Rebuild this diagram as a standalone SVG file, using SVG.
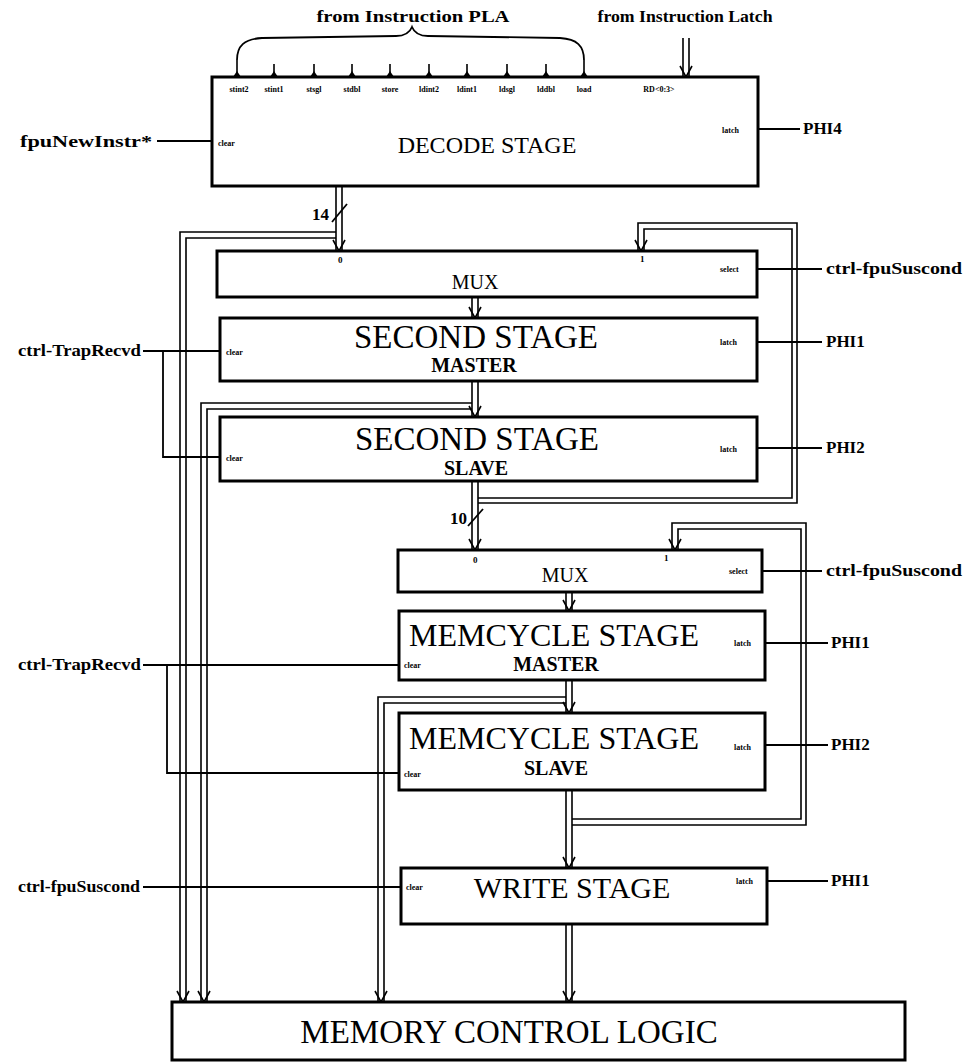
<svg xmlns="http://www.w3.org/2000/svg" xmlns:xlink="http://www.w3.org/1999/xlink" width="967" height="1064" viewBox="0 0 967 1064">
<style>
.box{fill:#fff;stroke:#000;stroke-width:3}
.w{fill:none;stroke:#000;stroke-width:1.6}
.c{fill:none;stroke:#000;stroke-width:1.8}
.t{font-family:"Liberation Serif",serif;fill:#000}
.big{font-size:33px;text-anchor:middle}
.mc{font-size:32px;text-anchor:middle}
.sub{font-size:20px;font-weight:bold;text-anchor:middle}
.lab{font-size:17px;font-weight:bold}
.tiny{font-size:8px;font-weight:bold}
.pin{font-size:9px;font-weight:bold}
</style>
<defs>
<path id="chev" d="M-6,-11 L0,0 L6,-11" fill="none" stroke="#000" stroke-width="1.6"/>
<path id="foot" d="M-4,0 L0,-6 L4,0 Z" fill="#000"/>
</defs>
<rect width="967" height="1064" fill="#fff"/>

<g id="connectors">
<path class="c" d="M237,60 C237,46 244,39 262,38 L396,36 C405,36 410,32 412,27 C414,32 419,36 428,36 L560,38 C577,39 584,46 584,60"/>
<path class="w" d="M237,60V77 M274,64V77 M314,64V77 M352,64V77 M390,64V77 M429,64V77 M467,64V77 M507,64V77 M546,64V77 M584,60V77"/>
<use xlink:href="#foot" x="237" y="77"/><use xlink:href="#foot" x="274" y="77"/><use xlink:href="#foot" x="314" y="77"/><use xlink:href="#foot" x="352" y="77"/><use xlink:href="#foot" x="390" y="77"/><use xlink:href="#foot" x="429" y="77"/><use xlink:href="#foot" x="467" y="77"/><use xlink:href="#foot" x="507" y="77"/><use xlink:href="#foot" x="546" y="77"/><use xlink:href="#foot" x="584" y="77"/>
<path class="w" d="M683,38V77 M689,38V77"/><use xlink:href="#chev" x="686" y="77"/>
<path class="w" d="M336,186V251 M342,186V251"/><use xlink:href="#chev" x="339" y="251"/>
<path class="c" d="M332,222 L347,204"/>
<path class="w" d="M336,232H180V1002 M336,238H186V1002"/><use xlink:href="#chev" x="183" y="1002"/>
<path class="w" d="M472,297V318 M478,297V318"/><use xlink:href="#chev" x="475" y="318"/>
<path class="w" d="M472,381V417 M478,381V417"/><use xlink:href="#chev" x="475" y="417"/>
<path class="w" d="M472,403H201V1002 M472,409H207V1002"/><use xlink:href="#chev" x="204" y="1002"/>
<path class="w" d="M472,481V550 M478,481V550"/><use xlink:href="#chev" x="475" y="550"/>
<path class="c" d="M468,526 L483,509"/>
<path class="w" d="M478,503H797V223H638V251 M478,498H792V229H644V251"/><use xlink:href="#chev" x="641" y="251"/>
<path class="w" d="M566,592V611 M572,592V611"/><use xlink:href="#chev" x="569" y="611"/>
<path class="w" d="M566,680V713 M572,680V713"/><use xlink:href="#chev" x="569" y="713"/>
<path class="w" d="M566,697H378V1002 M566,703H384V1002"/><use xlink:href="#chev" x="381" y="1002"/>
<path class="w" d="M566,790V868 M572,790V868"/><use xlink:href="#chev" x="569" y="868"/>
<path class="w" d="M572,825H806V523H672V550 M572,819H801V529H678V550"/><use xlink:href="#chev" x="675" y="550"/>
<path class="w" d="M566,924V1002 M572,924V1002"/><use xlink:href="#chev" x="569" y="1002"/>
<path class="c" d="M157,141H212 M758,129H800 M757,269H822 M757,342H822 M757,448H822 M143,351H220 M163,351V457H220 M762,571H822 M765,643H828 M765,745H828 M143,665H399 M167,665V773H399 M143,887H401 M767,881H828"/>
</g>

<g id="labels">
<text class="t" x="413" y="22" font-size="17" font-weight="bold" text-anchor="middle" textLength="193" lengthAdjust="spacingAndGlyphs">from Instruction PLA</text>
<text class="t" x="685" y="22" font-size="17" font-weight="bold" text-anchor="middle" textLength="175" lengthAdjust="spacingAndGlyphs">from Instruction Latch</text>
<text class="t lab" x="152" y="147" text-anchor="end" textLength="132" lengthAdjust="spacingAndGlyphs">fpuNewInstr*</text>
<text class="t lab" x="803" y="134">PHI4</text>
<text class="t lab" x="826" y="274" textLength="136" lengthAdjust="spacingAndGlyphs">ctrl-fpuSuscond</text>
<text class="t lab" x="826" y="347">PHI1</text>
<text class="t lab" x="826" y="453">PHI2</text>
<text class="t lab" x="141" y="356" text-anchor="end" textLength="123" lengthAdjust="spacingAndGlyphs">ctrl-TrapRecvd</text>
<text class="t lab" x="826" y="576" textLength="136" lengthAdjust="spacingAndGlyphs">ctrl-fpuSuscond</text>
<text class="t lab" x="831" y="648">PHI1</text>
<text class="t lab" x="831" y="750">PHI2</text>
<text class="t lab" x="141" y="670" text-anchor="end" textLength="123" lengthAdjust="spacingAndGlyphs">ctrl-TrapRecvd</text>
<text class="t lab" x="140" y="892" text-anchor="end" textLength="122" lengthAdjust="spacingAndGlyphs">ctrl-fpuSuscond</text>
<text class="t lab" x="831" y="886">PHI1</text>
<text class="t lab" x="329" y="220" text-anchor="end">14</text>
<text class="t lab" x="467" y="524" text-anchor="end">10</text>
</g>

<g id="decode">
<rect class="box" x="212" y="77" width="546" height="109"/>
<g class="t tiny" text-anchor="middle">
<text x="239" y="92">stint2</text><text x="274" y="92">stint1</text><text x="314" y="92">stsgl</text><text x="352" y="92">stdbl</text><text x="390" y="92">store</text><text x="429" y="92">ldint2</text><text x="467" y="92">ldint1</text><text x="507" y="92">ldsgl</text><text x="546" y="92">lddbl</text><text x="584" y="92">load</text>
<text x="659" y="92">RD&lt;0:3&gt;</text>
</g>
<text class="t tiny" x="218" y="146">clear</text>
<text class="t tiny" x="722" y="133">latch</text>
<text class="t" x="487" y="153" font-size="24" text-anchor="middle">DECODE STAGE</text>
</g>

<g id="mux1">
<rect class="box" x="217" y="251" width="540" height="46"/>
<text class="t pin" x="338" y="263">0</text>
<text class="t pin" x="640" y="262">1</text>
<text class="t tiny" x="720" y="272">select</text>
<text class="t" x="475" y="289" font-size="20" text-anchor="middle">MUX</text>
</g>

<g id="second-master">
<rect class="box" x="220" y="318" width="537" height="63"/>
<text class="t big" x="476" y="348">SECOND STAGE</text>
<text class="t sub" x="474" y="372">MASTER</text>
<text class="t tiny" x="226" y="355">clear</text>
<text class="t tiny" x="720" y="345">latch</text>
</g>

<g id="second-slave">
<rect class="box" x="220" y="417" width="537" height="64"/>
<text class="t big" x="477" y="450">SECOND STAGE</text>
<text class="t sub" x="476" y="475">SLAVE</text>
<text class="t tiny" x="226" y="461">clear</text>
<text class="t tiny" x="720" y="452">latch</text>
</g>

<g id="mux2">
<rect class="box" x="398" y="550" width="364" height="42"/>
<text class="t pin" x="473" y="563">0</text>
<text class="t pin" x="664" y="561">1</text>
<text class="t tiny" x="729" y="574">select</text>
<text class="t" x="565" y="582" font-size="20" text-anchor="middle">MUX</text>
</g>

<g id="memcycle-master">
<rect class="box" x="399" y="611" width="366" height="69"/>
<text class="t mc" x="554" y="646">MEMCYCLE STAGE</text>
<text class="t sub" x="556" y="671">MASTER</text>
<text class="t tiny" x="404" y="668">clear</text>
<text class="t tiny" x="734" y="646">latch</text>
</g>

<g id="memcycle-slave">
<rect class="box" x="399" y="713" width="366" height="77"/>
<text class="t mc" x="554" y="749">MEMCYCLE STAGE</text>
<text class="t sub" x="556" y="775">SLAVE</text>
<text class="t tiny" x="404" y="777">clear</text>
<text class="t tiny" x="734" y="750">latch</text>
</g>

<g id="write">
<rect class="box" x="401" y="868" width="366" height="56"/>
<text class="t" x="572" y="898" font-size="30" text-anchor="middle">WRITE STAGE</text>
<text class="t tiny" x="406" y="890">clear</text>
<text class="t tiny" x="736" y="884">latch</text>
</g>

<g id="memory-control">
<rect class="box" x="172" y="1002" width="733" height="58"/>
<text class="t" x="509" y="1043" font-size="33" text-anchor="middle">MEMORY CONTROL LOGIC</text>
</g>
</svg>
